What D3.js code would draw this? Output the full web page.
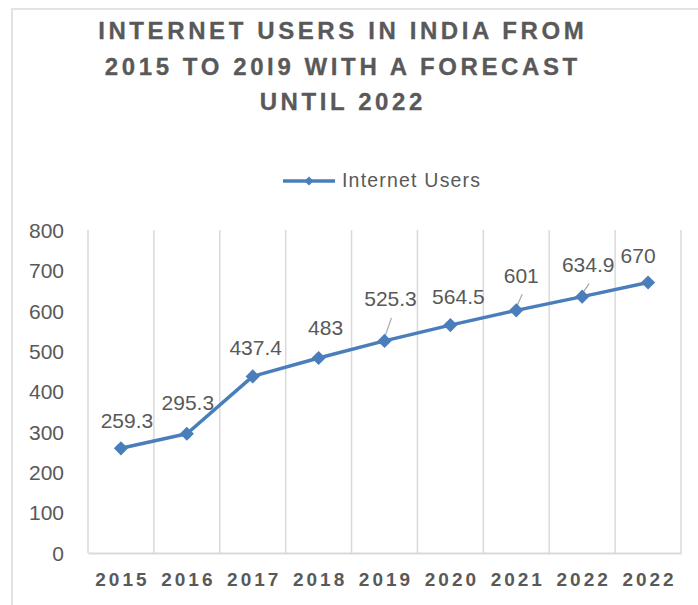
<!DOCTYPE html>
<html>
<head>
<meta charset="utf-8">
<script src="https://cdn.jsdelivr.net/npm/d3@7"></script>
<style>
  html, body { margin: 0; padding: 0; background: #fff; }
  svg { display: block; }
  text { font-family: "Liberation Sans", Arial, sans-serif; }
</style>
</head>
<body>
<svg id="chart" width="698" height="605"></svg>
<script>
// Internet users in India (millions)
const years = ["2015", "2016", "2017", "2018", "2019", "2020", "2021", "2022", "2022"];
const users = [259.3, 295.3, 437.4, 483, 525.3, 564.5, 601, 634.9, 670];
const yTicks = [0, 100, 200, 300, 400, 500, 600, 700, 800];
const titleLines = ["INTERNET USERS IN INDIA FROM", "2015 TO 20I9 WITH A FORECAST", "UNTIL 2022"];
const seriesName = "Internet Users";

// hand-placed label offsets [dx, dy] and which labels carry a leader line
const labelNudge = [[6, -28], [1, -31], [3, -29], [7, -30], [6, -42], [8, -28], [5, -35], [6, -32], [-10, -27]];
const hasLeader = [false, false, false, false, true, false, true, true, false];

const W = 698, H = 605;
const plot = { left: 88, right: 681, top: 230, bottom: 553 };
const blue = "#4A7EBB";
const grey = "#595959";
const gridCol = "#d9d9d9";

const svg = d3.select("#chart");
svg.append("rect").attr("width", W).attr("height", H).attr("fill", "#fff");

// chart area frame
svg.append("path")
  .attr("d", `M12,${H} L12,9 L${W},9`)
  .attr("fill", "none").attr("stroke", "#e3e3e3").attr("stroke-width", 2);

// title
const titleLS = 3.6;
svg.append("g").selectAll("text").data(titleLines).join("text")
  .attr("x", 341 + titleLS / 2)
  .attr("y", (d, i) => 39 + i * 35.5)
  .attr("text-anchor", "middle")
  .attr("font-size", 24).attr("font-weight", "bold")
  .attr("letter-spacing", titleLS)
  .attr("fill", grey)
  .attr("stroke", grey).attr("stroke-width", 0.3)
  .text(d => d);

// legend
const lg = svg.append("g");
lg.append("line").attr("x1", 283).attr("x2", 335).attr("y1", 181).attr("y2", 181)
  .attr("stroke", blue).attr("stroke-width", 3.5);
lg.append("path").attr("d", d3.symbol(d3.symbolSquare, 42)())
  .attr("transform", "translate(309,181) rotate(45)").attr("fill", blue);
lg.append("text").attr("x", 342).attr("y", 186.5)
  .attr("font-size", 19.5).attr("letter-spacing", 1.2).attr("fill", grey)
  .text(seriesName);

// scales
const x = d3.scaleBand().domain(d3.range(years.length)).range([plot.left, plot.right]).padding(0);
const y = d3.scaleLinear().domain([0, 800]).range([plot.bottom, plot.top]);
const cx = i => x(i) + x.bandwidth() / 2;

// vertical gridlines at category boundaries
const bounds = d3.range(years.length + 1).map(i => i < years.length ? x(i) : plot.right);
svg.append("g").selectAll("line").data(bounds).join("line")
  .attr("x1", d => d).attr("x2", d => d)
  .attr("y1", plot.top).attr("y2", plot.bottom)
  .attr("stroke", gridCol).attr("stroke-width", 1.5);

// y axis (labels only)
const yAxis = svg.append("g").attr("transform", `translate(${plot.left},0)`)
  .call(d3.axisLeft(y).tickValues(yTicks).tickSize(0).tickPadding(24));
yAxis.select(".domain").remove();
yAxis.selectAll("text")
  .attr("font-family", "'Liberation Sans', Arial, sans-serif")
  .attr("font-size", 21).attr("fill", grey).attr("dy", "0.35em");

// x axis
const xLS = 3;
const xAxis = svg.append("g").attr("transform", `translate(0,${plot.bottom})`)
  .call(d3.axisBottom(x).tickSize(0).tickPadding(20).tickFormat(i => years[i]));
xAxis.select(".domain").attr("stroke", gridCol).attr("stroke-width", 2);
xAxis.selectAll("text")
  .attr("font-family", "'Liberation Sans', Arial, sans-serif")
  .attr("font-size", 19).attr("font-weight", "bold")
  .attr("letter-spacing", xLS).attr("dx", xLS / 2)
  .attr("fill", grey);

// series line
const line = d3.line().x((d, i) => cx(i)).y(d => y(d));
svg.append("path").datum(users)
  .attr("d", line)
  .attr("fill", "none").attr("stroke", blue).attr("stroke-width", 3.5)
  .attr("stroke-linejoin", "round");

// leader lines
svg.append("g").selectAll("line").data(users.map((v, i) => i).filter(i => hasLeader[i])).join("line")
  .attr("x1", i => cx(i) + labelNudge[i][0] + 1)
  .attr("y1", i => y(users[i]) + labelNudge[i][1] + 19)
  .attr("x2", i => cx(i))
  .attr("y2", i => y(users[i]) - 3)
  .attr("stroke", "#a6a6a6").attr("stroke-width", 1.2);

// markers
svg.append("g").selectAll("path").data(users).join("path")
  .attr("d", d3.symbol(d3.symbolSquare, 100)())
  .attr("transform", (d, i) => `translate(${cx(i)},${y(d)}) rotate(45)`)
  .attr("fill", blue);

// value labels
svg.append("g").selectAll("text").data(users).join("text")
  .attr("x", (d, i) => cx(i) + labelNudge[i][0])
  .attr("y", (d, i) => y(d) + labelNudge[i][1])
  .attr("dy", "0.35em")
  .attr("text-anchor", "middle")
  .attr("font-size", 21).attr("fill", grey)
  .text(d => d);
</script>
</body>
</html>
